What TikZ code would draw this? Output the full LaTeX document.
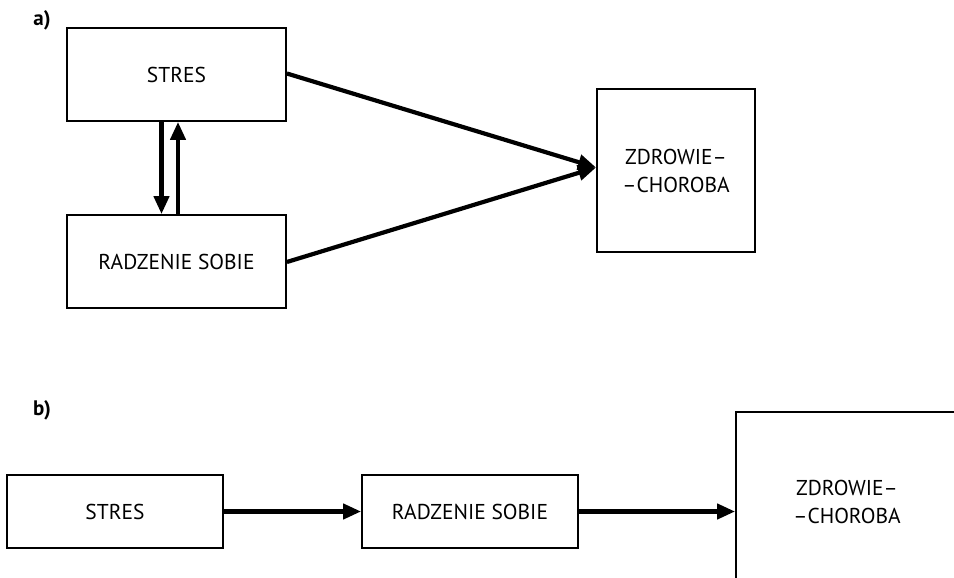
\documentclass[tikz,border=0pt]{standalone}
\usepackage{fontspec}
\setmainfont{PT Sans}
\usetikzlibrary{arrows.meta,calc}
\begin{document}
\begin{tikzpicture}[x=1pt,y=-1pt,
  box/.style={draw,line width=1.8pt,inner sep=0pt,font=\fontsize{21.5}{28}\selectfont,align=center},
  arr/.style={line width=4.2pt,-{Triangle[length=18pt,width=15pt]}},
  lbl/.style={font=\fontsize{21}{22}\selectfont\bfseries,anchor=center}]
\useasboundingbox (0,0) rectangle (954,578);
\clip (0,0) rectangle (954,578);
% part a
\node[lbl] (la) at (42,20) {a)};
\node[box,minimum width=219pt,minimum height=93pt] (s1) at (176.5,74.5) {STRES};
\node[box,minimum width=219pt,minimum height=93pt] (r1) at (176.5,261.5) {RADZENIE SOBIE};
\node[box,minimum width=158pt,minimum height=163pt] (z1) at (676,170.5) {ZDROWIE–\\–CHOROBA};
\draw[arr] ($(s1.south)+(-15,0)$) -- ($(r1.north)+(-15,0)$);
\draw[arr] ($(r1.north)+(1.5,0)$) -- ($(s1.south)+(1.5,0)$);
\draw[arr] ($(s1.east)+(0,-1)$) -- ($(z1.west)+(0,-3)$);
\draw[arr] ($(r1.east)+(0,0.5)$) -- ($(z1.west)+(0,-3)$);
% part b
\node[lbl] (lb) at (42,410) {b)};
\node[box,minimum width=216pt,minimum height=73pt] (s2) at (115,511.5) {STRES};
\node[box,minimum width=216pt,minimum height=73pt] (r2) at (470,511.5) {RADZENIE SOBIE};
\node[box,minimum width=222pt,minimum height=180pt] (z2) at (847,502) {ZDROWIE–\\–CHOROBA};
\draw[arr] (s2.east) -- (r2.west);
\draw[arr] (r2.east) -- (r2.east -| z2.west);
\end{tikzpicture}
\end{document}
